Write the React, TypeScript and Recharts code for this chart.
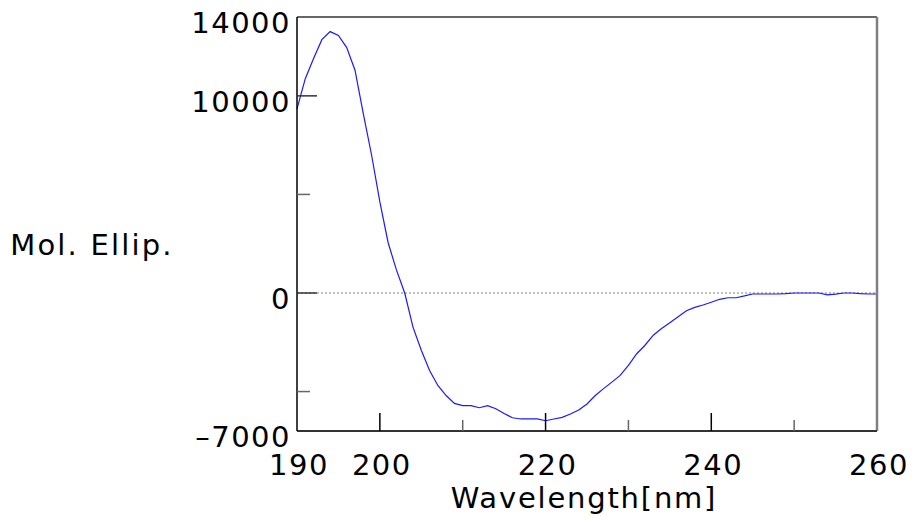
import { LineChart, Line, XAxis, YAxis, ReferenceLine } from 'recharts'

const wavelengths = [
  190, 191, 192, 193, 194, 195, 196, 197, 198, 199,
  200, 201, 202, 203, 204, 205, 206, 207, 208, 209,
  210, 211, 212, 213, 214, 215, 216, 217, 218, 219,
  220, 221, 222, 223, 224, 225, 226, 227, 228, 229,
  230, 231, 232, 233, 234, 235, 236, 237, 238, 239,
  240, 241, 242, 243, 244, 245, 246, 247, 248, 249,
  250, 251, 252, 253, 254, 255, 256, 257, 258, 259, 260,
]

const ellipticity = [
  9340, 10870, 11900, 12850, 13260, 13060, 12450, 11300, 9100, 7000,
  4620, 2550, 1170, 0, -1730, -2900, -3930, -4690, -5200, -5600,
  -5710, -5710, -5820, -5710, -5870, -6110, -6330, -6390, -6390, -6390,
  -6480, -6390, -6310, -6140, -5940, -5630, -5200, -4850, -4520, -4180,
  -3670, -3080, -2650, -2140, -1800, -1510, -1210, -900, -730, -610,
  -470, -320, -240, -240, -150, -50, -50, -50, -50, -30,
  0, 0, 0, 0, -90, -60, 0, 0, -30, -50, -50,
]

const xTicks = [190, 200, 210, 220, 230, 240, 250, 260]
const xLabelled = [190, 200, 220, 240, 260]
const xLong = [200, 220, 240]

const yTicks = [-7000, -5000, 0, 5000, 10000, 14000]
const yLabelled = [-7000, 0, 10000, 14000]
const yLong = [0, 10000]

const data = wavelengths.map((w, i) => ({ w, v: ellipticity[i] }))

const FONT = '"DejaVu Sans", Verdana, sans-serif'

// eslint-disable-next-line @typescript-eslint/no-explicit-any
function XTick({ x, y, payload }: any) {
  const val = payload.value
  const len = xLong.includes(val) ? 18 : val === 190 || val === 260 ? 0 : 11
  return (
    <g>
      {len > 0 && <line x1={x} y1={y} x2={x} y2={y - len} stroke={val % 20 === 0 ? '#000' : '#666'} strokeWidth={1.5} />}
      {xLabelled.includes(val) && (
        <text x={x + 2} y={y + 34} textAnchor="middle" dominantBaseline="central"
          fontFamily={FONT} fontSize={29} letterSpacing={1.5} fill="#000">
          {val}
        </text>
      )}
    </g>
  )
}

// eslint-disable-next-line @typescript-eslint/no-explicit-any
function YTick({ x, y, payload }: any) {
  const val = payload.value
  const len = yLong.includes(val) ? 20 : val === 14000 || val === -7000 ? 0 : 13
  return (
    <g>
      {len > 0 && <line x1={x} y1={y} x2={x + len} y2={y} stroke={yLong.includes(val) ? '#333' : '#666'} strokeWidth={1.5} />}
      {yLabelled.includes(val) && (
        <text x={x - 6} y={y + 6} textAnchor="end" dominantBaseline="central"
          fontFamily={FONT} fontSize={29} letterSpacing={1.5} fill="#000">
          {val < 0 ? `\u2013${Math.abs(val)}` : val}
        </text>
      )}
    </g>
  )
}

export default function App() {
  return (
    <div style={{ position: 'absolute', left: 0, top: 0, width: 913, height: 518, background: '#fff' }}>
      <LineChart width={913} height={518} data={data}
        margin={{ top: 16, right: 35, bottom: 86, left: 296 }}>
        <XAxis xAxisId="top" orientation="top" dataKey="w" type="number" domain={[190, 260]}
          height={1} tick={false} tickLine={false} axisLine={{ stroke: '#333', strokeWidth: 1.5 }} />
        <YAxis yAxisId="right" orientation="right" domain={[-7000, 14000]} width={1}
          tick={false} tickLine={false} axisLine={{ stroke: '#808080', strokeWidth: 2.5 }} />
        <XAxis dataKey="w" type="number" domain={[190, 260]} ticks={xTicks} height={1}
          tickSize={0} tickMargin={0} tickLine={false} interval={0}
          axisLine={{ stroke: '#333', strokeWidth: 2 }} tick={<XTick />}
          label={{
            // eslint-disable-next-line @typescript-eslint/no-explicit-any
            content: ({ viewBox }: any) => (
              <text x={viewBox.x + viewBox.width / 2 - 3} y={viewBox.y + 67} textAnchor="middle"
                dominantBaseline="central" fontFamily={FONT} fontSize={29} letterSpacing={1.8} fill="#000">
                Wavelength[nm]
              </text>
            ),
          }} />
        <YAxis domain={[-7000, 14000]} ticks={yTicks} width={1} type="number"
          tickSize={0} tickMargin={0} tickLine={false} interval={0}
          axisLine={{ stroke: '#000', strokeWidth: 1.5 }} tick={<YTick />}
          label={{
            // eslint-disable-next-line @typescript-eslint/no-explicit-any
            content: () => (
              <text x={92} y={245} textAnchor="middle" dominantBaseline="central"
                fontFamily={FONT} fontSize={29} letterSpacing={2.2} fill="#000">
                Mol. Ellip.
              </text>
            ),
          }} />
        <ReferenceLine y={0} stroke="#aaa" strokeDasharray="2 2" strokeWidth={1.5} />
        <Line dataKey="v" type="linear" stroke="#1a1aff" strokeWidth={1.2} dot={false}
          isAnimationActive={false} />
      </LineChart>
    </div>
  )
}
